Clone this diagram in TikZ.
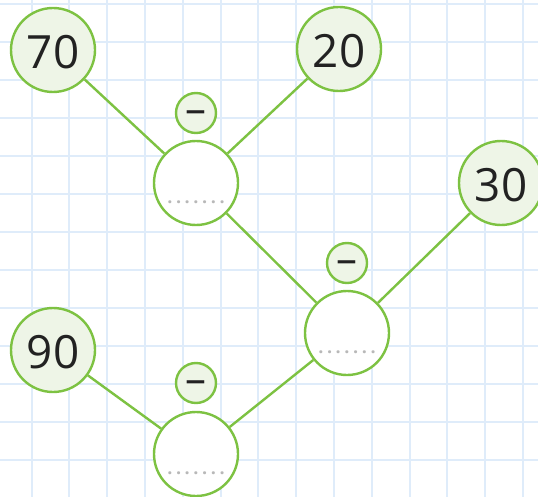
\documentclass[tikz,border=0pt]{standalone}
\usepackage{fontspec}
\setmainfont{Open Sans}
\definecolor{gridblue}{HTML}{DFECFA}
\definecolor{leaf}{HTML}{7DC242}
\definecolor{leaffill}{HTML}{EEF5E7}
\definecolor{ink}{HTML}{222222}
\definecolor{dotgrey}{HTML}{B8B8B8}
\tikzset{
  numc/.style={circle, draw=leaf, line width=2.4bp, fill=leaffill, minimum size=84bp, inner sep=0pt,
    text=ink, font=\fontsize{46}{46}\selectfont, text depth=0pt},
  emptyc/.style={circle, draw=leaf, line width=2.4bp, fill=white, minimum size=84bp, inner sep=0pt},
  minusc/.style={circle, draw=leaf, line width=2.4bp, fill=leaffill, minimum size=40bp, inner sep=0pt,
    text=ink, font=\fontsize{42}{42}\selectfont},
  blankdots/.style={inner sep=0pt, text=dotgrey, font=\fontsize{18}{18}\selectfont\bfseries},
  link/.style={draw=leaf, line width=2.4bp},
  gridline/.style={draw=gridblue, line width=2bp}
}
\newcommand\answerdots{.\hspace{3.6bp}.\hspace{3.6bp}.\hspace{3.6bp}.\hspace{3.6bp}.\hspace{3.6bp}.\hspace{3.6bp}.}
\newcommand\minustext{\smash{\raisebox{-10.5bp}{–}}}
\begin{document}
\begin{tikzpicture}[x=1bp, y=-1bp]
\useasboundingbox (0,0) rectangle (538,497);
\fill[white] (0,0) rectangle (538,497);
% grid
\foreach \k in {0,...,13} {
  \draw[gridline] ({31.5+37.8*\k},0) -- ({31.5+37.8*\k},497);
  \draw[gridline] (0,{4+38*\k}) -- (538,{4+38*\k});
}
% nodes
\node[numc] (n70) at (53,50) {\raisebox{-3bp}{70}};
\node[numc] (n20) at (339,49) {\raisebox{-3bp}{20}};
\node[numc] (n30) at (501,183) {\raisebox{-3bp}{30}};
\node[numc] (n90) at (53,350) {\raisebox{-3bp}{90}};
\node[emptyc] (e1) at (196,183) {};
\node[emptyc] (e2) at (347,333) {};
\node[emptyc] (e3) at (196,454) {};
\node[minusc] (m1) at (196,113) {\minustext};
\node[minusc] (m2) at (347,263) {\minustext};
\node[minusc] (m3) at (196,383) {\minustext};
\node[blankdots] (d1) at (196,202) {\answerdots};
\node[blankdots] (d2) at (347,352) {\answerdots};
\node[blankdots] (d3) at (196,473) {\answerdots};
% connectors
\draw[link] (n70) -- (e1);
\draw[link] (n20) -- (e1);
\draw[link] (e1) -- (e2);
\draw[link] (n30) -- (e2);
\draw[link] (n90) -- (e3);
\draw[link] (e2) -- (e3);
\end{tikzpicture}
\end{document}
